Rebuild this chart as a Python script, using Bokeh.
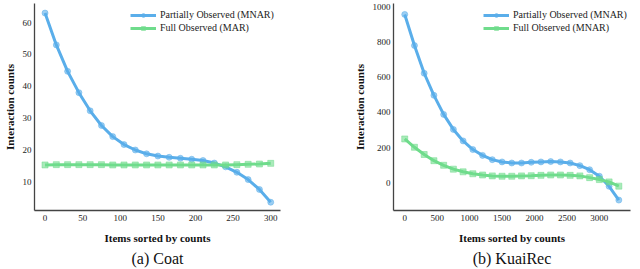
from bokeh.plotting import figure
from bokeh.layouts import row
from bokeh.models import FixedTicker, Legend, LegendItem, Range1d, LinearAxis
from bokeh.embed import file_html
from bokeh.resources import INLINE

# ---- data ----
coat_x = [0, 15, 30, 45, 60, 75, 90, 105, 120, 135, 150, 165, 180, 195, 210, 225, 240, 255, 270, 285, 300]
coat_mnar = [63, 53, 44.7, 38, 32.3, 27.7, 24.2, 21.7, 20, 18.8, 18.1, 17.7, 17.4, 17.1, 16.7, 15.9, 14.7, 13, 10.7, 7.6, 3.6]
coat_mar = [15.3, 15.4, 15.4, 15.4, 15.4, 15.4, 15.3, 15.3, 15.3, 15.3, 15.3, 15.3, 15.3, 15.3, 15.3, 15.3, 15.3, 15.4, 15.5, 15.6, 15.8]

kuai_x = [0, 150, 300, 450, 600, 750, 900, 1050, 1200, 1350, 1500, 1650, 1800, 1950, 2100, 2250, 2400, 2550, 2700, 2850, 3000, 3150, 3300]
kuai_part = [955, 779, 622, 497, 389, 304, 239, 190, 157, 133, 120, 114, 114, 118, 120, 122, 120, 114, 99, 76, 39, -18, -96]
kuai_full = [250, 203, 162, 127, 101, 79, 64, 53, 46, 41, 39, 39, 41, 42, 44, 46, 46, 44, 41, 31, 20, 7, -17]

coat_xticks = [0, 50, 100, 150, 200, 250, 300]
coat_yticks = [10, 20, 30, 40, 50, 60]
kuai_xticks = [0, 500, 1000, 1500, 2000, 2500, 3000]
kuai_yticks = [0, 200, 400, 600, 800, 1000]

BLUE = "#5aaeea"
GREEN = "#6fdc8c"
SERIF = "serif"
FH = 207


def make(xs, s1, s2, l1, l2, xr, yr, xt, yt, caption, left_border, fw, right_border, legend_x):
    p = figure(frame_width=fw, frame_height=FH, output_backend="svg", toolbar_location=None,
               x_range=Range1d(*xr), y_range=Range1d(*yr),
               min_border_left=left_border, min_border_right=right_border,
               min_border_top=3, min_border_bottom=0)
    p.outline_line_color = None
    p.xgrid.visible = False
    p.ygrid.visible = False
    r1 = p.line(xs, s1, line_color=BLUE, line_width=3)
    m1 = p.scatter(xs, s1, marker="circle", size=6, fill_color=BLUE, fill_alpha=0.6,
                   line_color=BLUE, line_alpha=0.5)
    r2 = p.line(xs, s2, line_color=GREEN, line_width=3)
    m2 = p.scatter(xs, s2, marker="square", size=6, fill_color=GREEN, fill_alpha=0.6,
                   line_color=GREEN, line_alpha=0.5)
    legend = Legend(items=[LegendItem(label=l1, renderers=[r1, m1]),
                           LegendItem(label=l2, renderers=[r2, m2])],
                    location=(legend_x, FH - 30), orientation="vertical")
    legend.border_line_color = None
    legend.background_fill_alpha = 0
    legend.label_text_font = SERIF
    legend.label_text_font_size = "10px"
    legend.label_text_color = "#222222"
    legend.glyph_width = 26
    legend.glyph_height = 10
    legend.spacing = 2
    legend.padding = 2
    legend.label_standoff = 4
    legend.label_height = 10
    p.add_layout(legend, "center")
    for ax, ticks in ((p.xaxis, xt), (p.yaxis, yt)):
        ax.ticker = FixedTicker(ticks=ticks)
        ax.major_tick_out = 0
        ax.major_tick_in = 0
        ax.minor_tick_out = 0
        ax.minor_tick_in = 0
        ax.axis_line_color = "#444444"
        ax.axis_line_width = 1.3
        ax.major_label_text_font = SERIF
        ax.major_label_text_font_size = "9px"
        ax.major_label_text_color = "#222222"
        ax.axis_label_text_font = SERIF
        ax.axis_label_text_font_style = "bold"
        ax.axis_label_text_font_size = "11px"
        ax.axis_label_text_color = "#111111"
    p.xaxis.axis_label = "Items sorted by counts"
    p.yaxis.axis_label = "Interaction counts"
    p.xaxis.major_label_standoff = 4
    p.xaxis.axis_label_standoff = 8
    p.yaxis.major_label_standoff = 3
    p.yaxis.axis_label_standoff = 4
    cap = LinearAxis(axis_label=caption, ticker=FixedTicker(ticks=[]))
    cap.axis_line_color = None
    cap.major_tick_out = 0
    cap.major_tick_in = 0
    cap.minor_tick_out = 0
    cap.minor_tick_in = 0
    cap.major_label_text_font_size = "0px"
    cap.major_label_standoff = 0
    cap.axis_label_standoff = 3
    cap.axis_label_text_font = SERIF
    cap.axis_label_text_font_style = "normal"
    cap.axis_label_text_font_size = "16px"
    cap.axis_label_text_color = "#111111"
    p.add_layout(cap, "below")
    return p


p1 = make(coat_x, coat_mnar, coat_mar, "Partially Observed (MNAR)", "Full Observed (MAR)",
          (-14, 313), (1, 66), coat_xticks, coat_yticks, "(a) Coat", 24, 246, 42, 96)
p2 = make(kuai_x, kuai_part, kuai_full, "Partially Observed (MNAR)", "Full Observed (MNAR)",
          (-173, 3480), (-155, 1017), kuai_xticks, kuai_yticks, "(b) KuaiRec", 71, 237, 4, 90)

p = row(p1, p2)
open("out.html", "w").write(file_html(p, INLINE))
